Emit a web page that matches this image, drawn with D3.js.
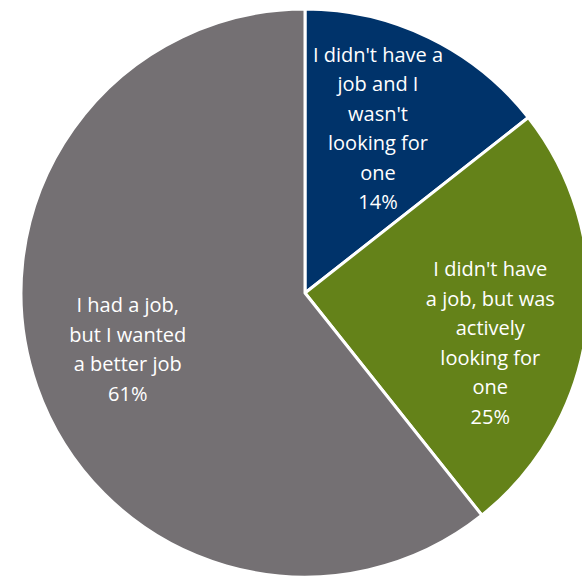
<!DOCTYPE html>
<html>
<head>
<meta charset="utf-8">
<script src="https://cdn.jsdelivr.net/npm/d3@7"></script>
<style>
  body { margin: 0; background: #fff; }
  svg { display: block; }
</style>
</head>
<body>
<script>
// categories, in drawing order (clockwise from 12 o'clock)
var categories = [
  "I didn't have a\njob and I\nwasn't\nlooking for\none",
  "I didn't have\na job, but was\nactively\nlooking for\none",
  "I had a job,\nbut I wanted\na better job"
];
// shares; labels show them rounded
var values = [14.4, 24.9, 60.7];
var colors = ["#00336a", "#648219", "#747073"];

var width = 582,
    height = 576,
    radius = 284,
    cx = 305,
    cy = 293,
    lineH = 29.5;

// label anchor: radius and angle tweak (deg) per slice
var labelR = [180, 192, 186];
var labelShift = [-2, 8.5, 1.6];

var svg = d3.select("body").append("svg")
    .attr("width", width)
    .attr("height", height);

var g = svg.append("g")
    .attr("transform", "translate(" + cx + "," + cy + ")");

var pie = d3.pie().sort(null).value(function(d) { return d; });
var arcs = pie(values);

var arc = d3.arc().innerRadius(0).outerRadius(radius);

g.selectAll(".slice")
    .data(arcs)
  .enter().append("path")
    .attr("class", "slice")
    .attr("d", arc)
    .style("fill", function(d, i) { return colors[i]; })
    .style("stroke", "#fff")
    .style("stroke-width", 3)
    .style("stroke-linejoin", "round");

var total = d3.sum(values);

var lab = g.selectAll(".lab")
    .data(arcs)
  .enter().append("text")
    .attr("class", "lab")
    .attr("text-anchor", "middle")
    .style("font-family", "'Open Sans', 'Noto Sans', sans-serif")
    .style("font-size", "20px")
    .style("fill", "#fff")
    .each(function(d, i) {
      var lines = categories[i].split("\n");
      lines.push(Math.round(d.value / total * 100) + "%");
      var a = (d.startAngle + d.endAngle) / 2 + labelShift[i] * Math.PI / 180;
      var x = Math.sin(a) * labelR[i],
          y = -Math.cos(a) * labelR[i];
      var y0 = y - (lines.length - 1) * lineH / 2;
      var t = d3.select(this);
      lines.forEach(function(l, k) {
        t.append("tspan")
          .attr("x", x)
          .attr("y", y0 + k * lineH)
          .attr("dy", "0.35em")
          .text(l);
      });
    });
</script>
</body>
</html>
